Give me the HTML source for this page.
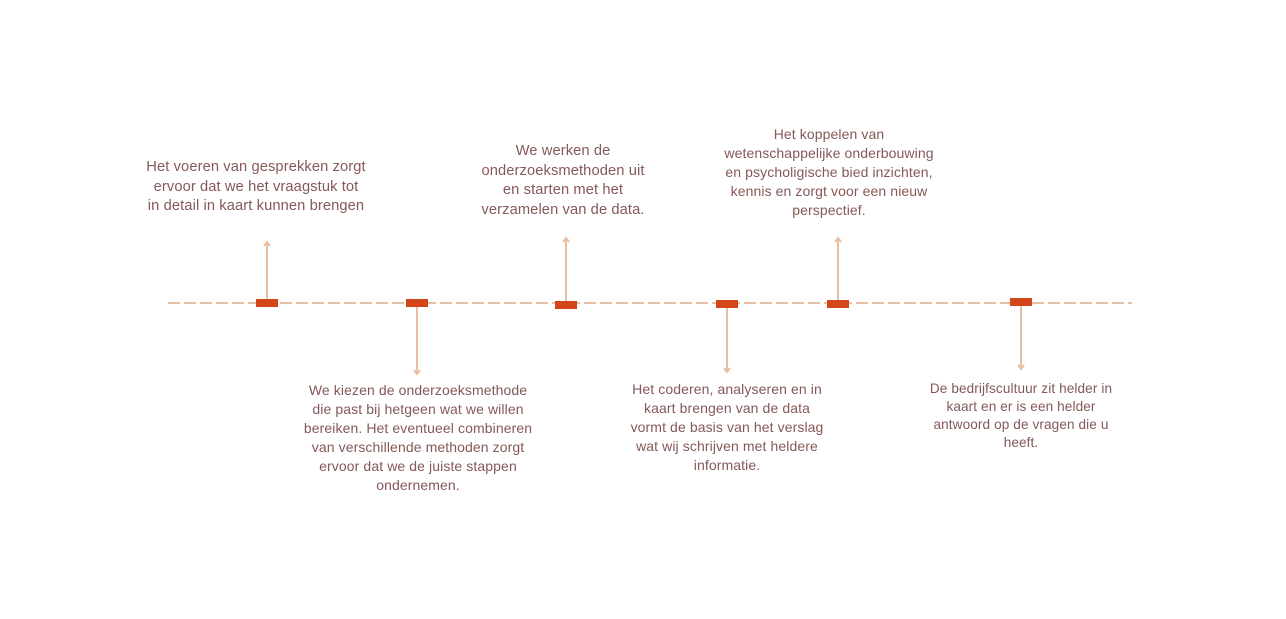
<!DOCTYPE html>
<html><head><meta charset="utf-8"><style>
body{margin:0;width:1286px;height:619px;background:#fff;position:relative;overflow:hidden;font-family:"Liberation Sans",sans-serif;}
.t{position:absolute;text-align:center;color:#865858;font-size:14.7px;line-height:19.5px;transform:translateX(-50%);white-space:nowrap;letter-spacing:0.1px}
.s{font-size:14px;line-height:19px}
</style></head><body>
<svg width="1286" height="619" style="position:absolute;left:0;top:0">
<line x1="168" y1="303" x2="1132" y2="303" stroke="#e8bfa0" stroke-width="2" stroke-dasharray="12,4"/>
<g id="g"></g>
</svg>
<div class="t" style="left:256px;top:158px">Het voeren van gesprekken zorgt<br>ervoor dat we het vraagstuk tot<br>in detail in kaart kunnen brengen</div>
<div class="t s" style="left:418px;top:381px">We kiezen de onderzoeksmethode<br>die past bij hetgeen wat we willen<br>bereiken. Het eventueel combineren<br>van verschillende methoden zorgt<br>ervoor dat we de juiste stappen<br>ondernemen.</div>
<div class="t" style="left:563px;top:142px">We werken de<br>onderzoeksmethoden uit<br>en starten met het<br>verzamelen van de data.</div>
<div class="t s" style="left:727px;top:380px">Het coderen, analyseren en in<br>kaart brengen van de data<br>vormt de basis van het verslag<br>wat wij schrijven met heldere<br>informatie.</div>
<div class="t s" style="left:829px;top:125px">Het koppelen van<br>wetenschappelijke onderbouwing<br>en psycholigische bied inzichten,<br>kennis en zorgt voor een nieuw<br>perspectief.</div>
<div class="t s" style="left:1021px;top:380px;font-size:13.6px;line-height:18px">De bedrijfscultuur zit helder in<br>kaart en er is een helder<br>antwoord op de vragen die u<br>heeft.</div>
<script>
const xs=[267,417,566,727,838,1021];
const my=[303,303,305,304,304,302];
const ends=[242,374,238,372,238,369];
const g=document.getElementById('g');
const ns='http://www.w3.org/2000/svg';
for(let i=0;i<xs.length;i++){
 const x=xs[i],e=ends[i],up=e<my[i];
 const l=document.createElementNS(ns,'path');
 l.setAttribute('d',`M${x} ${my[i]} L${x} ${e} M${x-3} ${e+(up?4:-4)} L${x} ${e} L${x+3} ${e+(up?4:-4)}`);
 l.setAttribute('stroke','#e8bfa0');l.setAttribute('stroke-width','2');l.setAttribute('fill','none');
 
 
 g.appendChild(l);
 const r=document.createElementNS(ns,'rect');
 r.setAttribute('x',x-11);r.setAttribute('y',my[i]-4);r.setAttribute('width',22);r.setAttribute('height',8);r.setAttribute('fill','#d2461a');
 
 
 g.appendChild(r);
}
</script>
</body></html>
